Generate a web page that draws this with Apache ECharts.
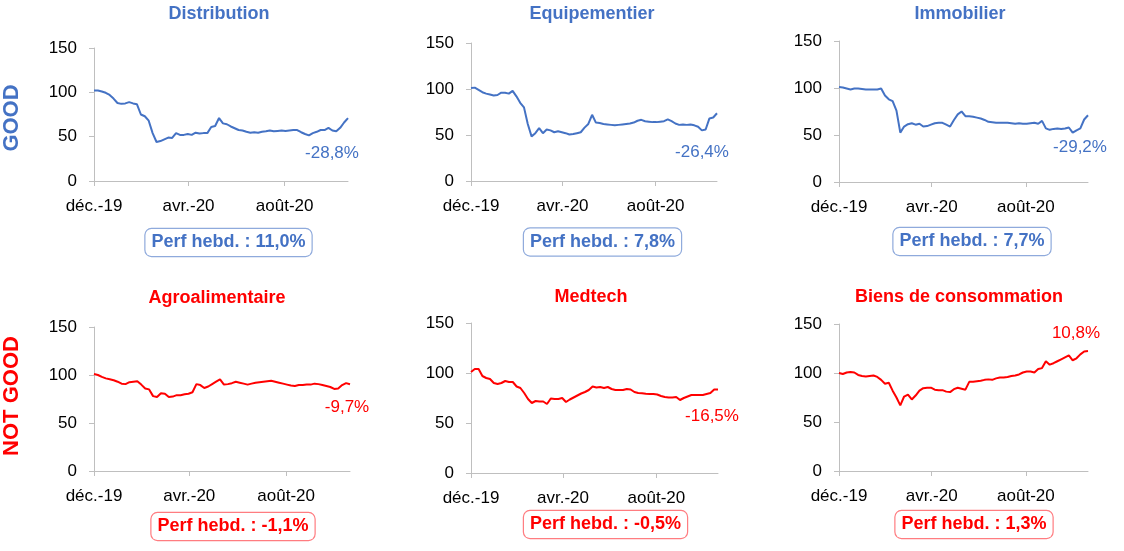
<!DOCTYPE html>
<html><head><meta charset="utf-8">
<script src="https://cdn.jsdelivr.net/npm/echarts@6/dist/echarts.min.js"></script>
<style>html,body{margin:0;padding:0;background:#fff}#c{width:1124px;height:551px}</style>
</head><body><div id="c"></div>
<script>
// day offsets from 31 Dec 2019
const days = [0,5,10,15,20,25,30,35,40,45,50,55,60,65,70,75,80,85,90,95,100,105,110,115,120,125,130,135,140,145,150,155,160,165,170,175,180,185,190,195,200,205,210,215,220,225,230,235,240,245,250,255,260,265,270,275,280,285,290,295,300,305,310,315,320,325];
const tickDays = [0,121,244];
const tickLabels = ['déc.-19','avr.-20','août-20'];
const titles = ['Distribution','Equipementier','Immobilier','Agroalimentaire','Medtech','Biens de consommation'];
const endLabels = ['-28,8%','-26,4%','-29,2%','-9,7%','-16,5%','10,8%'];
const perfLabels = ['Perf hebd. : 11,0%','Perf hebd. : 7,8%','Perf hebd. : 7,7%','Perf hebd. : -1,1%','Perf hebd. : -0,5%','Perf hebd. : 1,3%'];
const rowLabels = ['GOOD','NOT GOOD'];

const distribution = [102,102,101,99.5,97,93,88,87,87.5,89,87.5,86.5,75,73,68,54,44,45,47,49,48.5,54,52,52,53,52,54.5,53.5,54,54,61,62,71,65,64,61.5,59.5,57.5,57,55.5,54.5,55,54.5,55.5,56,57,56,56.5,57,56.5,57,57.5,57.5,55,53,51.5,54,55.5,57.5,57.5,60,57,56,60,66,71];
const equipementier = [101,101.5,99,96.5,95,94,93,93.5,96,96,95,98,92,85,80,62,48.5,52,57.5,52,56,55,53,54,53,52,50.5,51,52,53,58,62,72,63.5,63,62,61.5,61,60.5,61,61.5,62,62.5,63.5,65.5,66.5,65,64.5,64,64,64.5,65,67,65,62.5,61,61.5,61,61.5,60.5,59,55,56,68,69,73.6];
const immobilier = [101,100.5,99.5,98.5,99.5,99.5,99,98.5,98.5,98.5,98.5,99.5,92,88,86,76,52.5,59,61.5,62.5,61,62,59,59.5,61,62.5,63,63,61,59,66,72,75,70,70,69.5,68.5,67.5,66,64,63.5,63,63,63,63,62.5,62,62.5,62,62,62.5,63,62,65,57,55.5,56.5,57,56.5,57,58,52.5,55,57,66.5,71];
const agroalimentaire = [101,100,98,96.5,95.5,94.5,93,91,90.5,92.5,93,93.5,90,86,85,78,77,81,80.5,77,77.5,79,79,80,80.5,82,90.5,89.5,86.5,88,90.5,93,95.5,90,90.5,91.5,93,92,91,90,91,92,92.5,93,93.5,94,93,92,91,90,89,88.5,89.5,89.5,90,90,91,90.5,89.5,88.5,87.5,85.5,86,89.5,91.5,90.3];
const medtech = [101,104,104,97,95,94,90,89,90,92,91,91,86.5,85,80,74,70,72,71.5,71.5,69,74.5,74,74,75,71,73.5,75.5,77.5,79.5,81,83,86.5,85.5,86,85,86,84,83,83,83,84,83.5,81,80,79.8,79.3,79,79,78.5,77,76,75.5,75.5,76,73,75,76.5,78,78,78,78,79,80,83.5,83.5];
const biensConso = [100,99,100.5,101,100.5,98,97,96.5,97,97.5,96,93,89,90,82,75,67,76,78,73,77,82,84.5,85,85,83,82.5,82.5,81,80.5,83.5,85,84,83,91,91,91.5,92,93,93.5,93,94.5,95.5,95.5,96,97,97.5,98.5,100.5,101.5,101.5,100.5,104,105,112,108.5,110,112,114,116,118,113,115,119,122,122.5];

const seriesValues = [distribution, equipementier, immobilier, agroalimentaire, medtech, biensConso];

const BLUE = '#4472C4', RED = '#FF0000';
const FONT = '"Liberation Sans", Arial, sans-serif';
const layouts = [
  {left:94,  top:48,  width:254, height:133, color:BLUE, off:[-16,35], tx:219, ty:14,  bx:228.5, by:242.5, box:'#8FAADC'},
  {left:471, top:43,  width:246, height:138, color:BLUE, off:[-15,39], tx:592, ty:14,  bx:602.5, by:242,   box:'#8FAADC'},
  {left:839, top:41,  width:249, height:141, color:BLUE, off:[-8,32],  tx:960, ty:14,  bx:972,   by:241.5, box:'#8FAADC'},
  {left:94,  top:327, width:256, height:144, color:RED,  off:[-3,23],  tx:217, ty:298, bx:233,   by:526.5, box:'#FF7C80'},
  {left:471, top:323, width:247, height:150, color:RED,  off:[-6,27],  tx:591, ty:297, bx:605.5, by:524.5, box:'#FF7C80'},
  {left:839, top:324, width:249, height:147, color:RED,  off:[-12,-18],tx:959, ty:297, bx:974,   by:524.5, box:'#FF7C80'}
];

const grid = [], xAxis = [], yAxis = [], series = [], graphic = [];
layouts.forEach((L, i) => {
  grid.push({left:L.left, top:L.top, width:L.width, height:L.height, containLabel:false});
  xAxis.push({
    type:'value', gridIndex:i, min:0, max:325,
    axisLine:{show:true, lineStyle:{color:'#BFBFBF', width:1}},
    axisTick:{show:true, customValues:tickDays, length:5, lineStyle:{color:'#BFBFBF'}},
    axisLabel:{customValues:tickDays, formatter:v => tickLabels[tickDays.indexOf(v)] || '', fontSize:17, color:'#000', fontFamily:FONT, margin:17},
    splitLine:{show:false}
  });
  yAxis.push({
    type:'value', gridIndex:i, min:0, max:150, interval:50,
    axisLine:{show:true, lineStyle:{color:'#BFBFBF', width:1}},
    axisTick:{show:true, length:5, lineStyle:{color:'#BFBFBF'}},
    axisLabel:{fontSize:17, color:'#000', fontFamily:FONT, margin:17},
    splitLine:{show:false}
  });
  const vals = seriesValues[i];
  const data = vals.map((v, k) => {
    if (k === vals.length - 1) {
      return {value:[days[k], v], label:{show:true, position:'inside', offset:L.off, formatter:endLabels[i], color:L.color, fontSize:17, fontFamily:FONT}};
    }
    return [days[k], v];
  });
  series.push({
    type:'line', xAxisIndex:i, yAxisIndex:i, data,
    symbol:'circle', symbolSize:0, showSymbol:true, showAllSymbol:true,
    lineStyle:{color:L.color, width:2}, itemStyle:{color:L.color},
    label:{show:false}, emphasis:{disabled:true}, animation:false
  });
  graphic.push({type:'text', x:L.tx, y:L.ty, style:{text:titles[i], x:0, y:0, align:'center', verticalAlign:'middle', fill:L.color, font:'bold 18px ' + FONT}});
  graphic.push({type:'text', x:L.bx, y:L.by, style:{text:perfLabels[i], align:'center', verticalAlign:'middle', fill:L.color, font:'bold 18px ' + FONT,
    backgroundColor:'#fff', borderColor:L.box, borderWidth:1.2, borderRadius:6, padding:[5,6,4,6]}});
});
graphic.push({type:'text', x:12, y:118, rotation:Math.PI/2, style:{text:rowLabels[0], align:'center', verticalAlign:'middle', fill:BLUE, font:'bold 22px ' + FONT}});
graphic.push({type:'text', x:12, y:396, rotation:Math.PI/2, style:{text:rowLabels[1], align:'center', verticalAlign:'middle', fill:RED, font:'bold 22px ' + FONT}});

const chart = echarts.init(document.getElementById('c'), null, {renderer:'canvas'});
chart.setOption({animation:false, grid, xAxis, yAxis, series, graphic});
</script></body></html>
